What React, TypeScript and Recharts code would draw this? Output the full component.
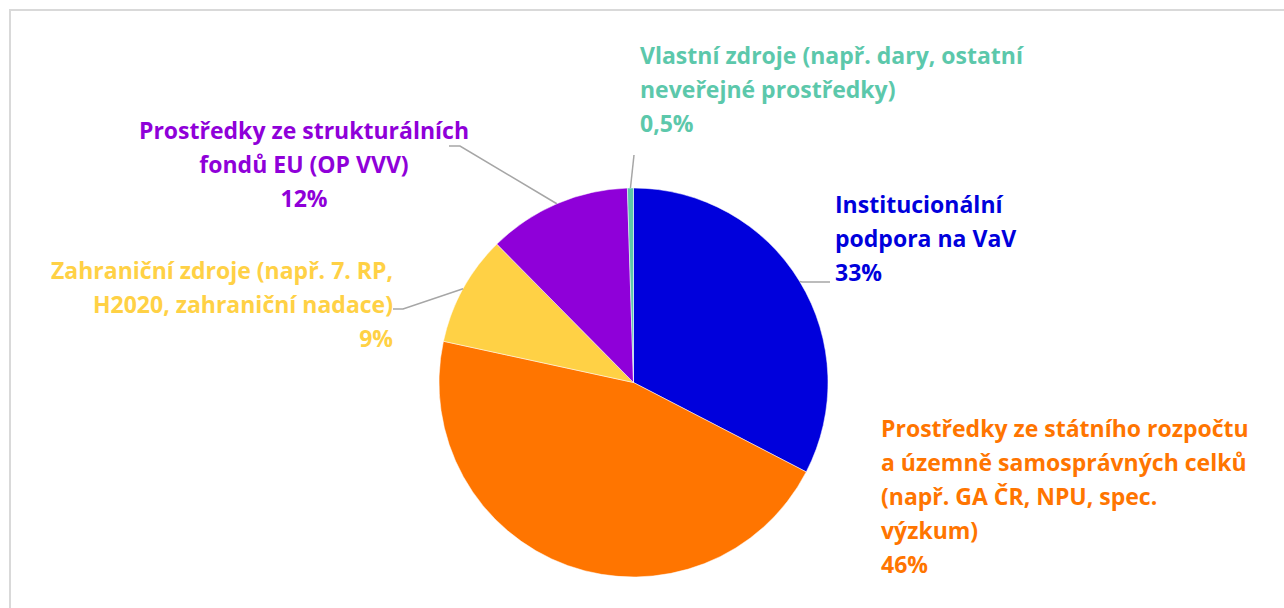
import { Cell, Pie, PieChart } from "recharts";

// slices go clockwise from 12 o'clock
const categories = [
  "Institucionální podpora na VaV",
  "Prostředky ze státního rozpočtu a územně samosprávných celků (např. GA ČR, NPU, spec. výzkum)",
  "Zahraniční zdroje (např. 7. RP, H2020, zahraniční nadace)",
  "Prostředky ze strukturálních fondů EU (OP VVV)",
  "Vlastní zdroje (např. dary, ostatní neveřejné prostředky)",
];
const shares = [32.6, 45.8, 9.2, 11.9, 0.5];
const percentLabels = ["33%", "46%", "9%", "12%", "0,5%"];
const labelLines = [
  ["Institucionální", "podpora na VaV"],
  ["Prostředky ze státního rozpočtu", "a územně samosprávných celků", "(např. GA ČR, NPU, spec.", "výzkum)"],
  ["Zahraniční zdroje (např. 7. RP,", "H2020, zahraniční nadace)"],
  ["Prostředky ze strukturálních", "fondů EU (OP VVV)"],
  ["Vlastní zdroje (např. dary, ostatní", "neveřejné prostředky)"],
];

const colors = ["#0000DC", "#FF7500", "#FFD145", "#8F00D9", "#5CC8AB"];

// where each label sits, and the leader line elbow/end (null = no leader)
const labelLayout = [
  { x: 835, y: 213, anchor: "start", elbow: [802, 282], end: [830, 282] },
  { x: 881, y: 437, anchor: "start", elbow: null, end: null },
  { x: 393, y: 279, anchor: "end", elbow: [403, 309], end: [393, 309] },
  { x: 304, y: 139, anchor: "middle", elbow: [460, 146], end: [449, 146] },
  { x: 640, y: 64, anchor: "start", elbow: [634, 155], end: [634, 155] },
];

const data = categories.map((name, i) => ({ name, value: shares[i] }));

const RAD = Math.PI / 180;
const LINE_H = 34;

function renderLabel(props: any) {
  const { cx, cy, outerRadius, midAngle, index } = props;
  const lay = labelLayout[index];
  const lines = [...labelLines[index], percentLabels[index]];
  const ex = cx + outerRadius * Math.cos(-midAngle * RAD);
  const ey = cy + outerRadius * Math.sin(-midAngle * RAD);
  return (
    <g key={`lbl-${index}`}>
      {lay.elbow && lay.end && (
        <polyline
          points={`${ex},${ey} ${lay.elbow[0]},${lay.elbow[1]} ${lay.end[0]},${lay.end[1]}`}
          fill="none"
          stroke="#A6A6A6"
          strokeWidth={1.5}
        />
      )}
      <text
        x={lay.x}
        y={lay.y}
        textAnchor={lay.anchor}
        fill={colors[index]}
        style={{ fontFamily: "'Open Sans', Lato, sans-serif", fontWeight: 700, fontSize: 23 }}
      >
        {lines.map((ln, i) => (
          <tspan key={i} x={lay.x} y={lay.y + i * LINE_H}>
            {ln}
          </tspan>
        ))}
      </text>
    </g>
  );
}

export default function App() {
  return (
    <div style={{ position: "fixed", left: 0, top: 0, width: 1284, height: 608, background: "#fff" }}>
      <div
        style={{
          position: "absolute",
          left: 9,
          top: 9,
          width: 1400,
          height: 700,
          border: "2px solid #D9D9D9",
        }}
      />
      <PieChart
        width={1284}
        height={608}
        margin={{ top: 0, right: 0, bottom: 0, left: 0 }}
        style={{ position: "absolute", left: 0, top: 0 }}
      >
        <Pie
          data={data}
          dataKey="value"
          nameKey="name"
          cx={633.5}
          cy={382.5}
          outerRadius={194.5}
          startAngle={90}
          endAngle={-270}
          stroke="#ffffff"
          strokeWidth={0.5}
          label={renderLabel}
          labelLine={false}
          isAnimationActive={false}
        >
          {data.map((d, i) => (
            <Cell key={d.name} fill={colors[i]} />
          ))}
        </Pie>
      </PieChart>
    </div>
  );
}
